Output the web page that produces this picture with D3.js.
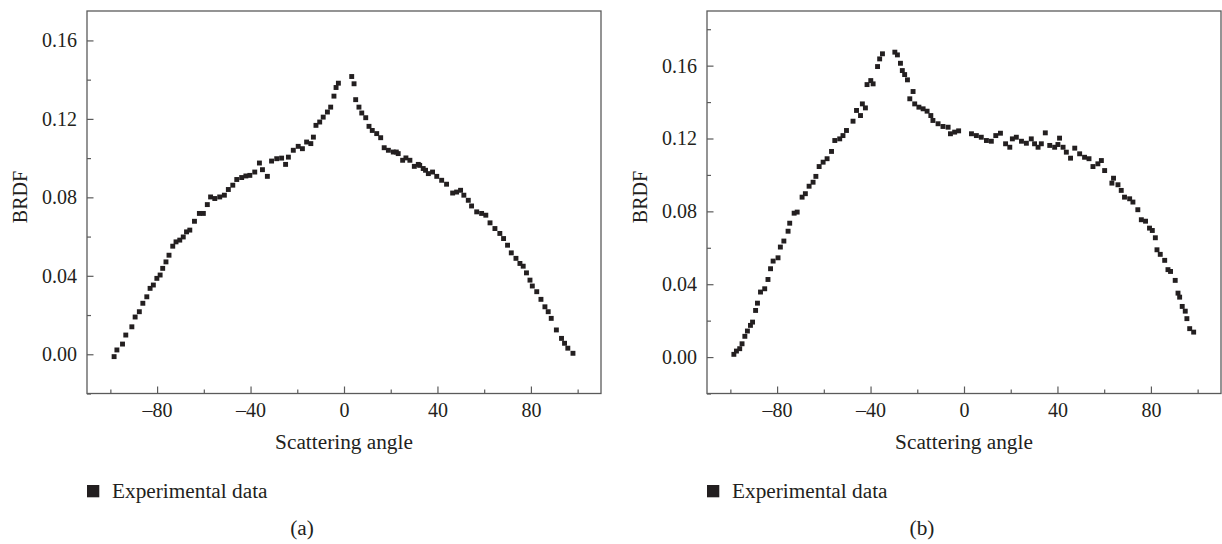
<!DOCTYPE html>
<html>
<head>
<meta charset="utf-8">
<script src="https://cdn.jsdelivr.net/npm/d3@7"></script>
<style>
  html, body { margin: 0; padding: 0; background: #ffffff; }
  svg { display: block; }
  text { font-family: "Liberation Serif", "Times New Roman", serif; fill: #231f20; }
</style>
</head>
<body>
<svg id="chart" width="1222" height="544"></svg>
<script>
// ---------------- data ----------------
const anglesA = [-98.4,-97.2,-94.8,-93.4,-90.8,-89.4,-87.6,-86.1,-84.4,-83.0,-81.6,-80.1,-78.7,-77.6,-76.2,-74.9,-73.3,-71.9,-70.3,-68.8,-67.4,-66.0,-64.0,-61.9,-60.2,-58.5,-57.1,-55.3,-53.2,-51.2,-49.5,-47.6,-45.9,-43.8,-42.0,-40.3,-38.2,-36.2,-34.9,-32.8,-31.0,-28.8,-26.7,-25.0,-23.8,-21.7,-19.6,-17.8,-16.0,-14.2,-13.1,-12.0,-10.4,-8.9,-7.1,-5.7,-4.3,-3.4,-2.4,3.3,4.3,5.0,6.4,7.6,9.3,10.7,12.1,14.0,15.7,17.2,19.0,21.1,22.4,23.2,25.1,26.5,28.2,30.1,31.8,32.4,33.9,34.9,36.1,37.9,39.7,41.8,43.9,46.5,48.2,49.9,51.3,53.2,54.6,56.8,58.9,60.7,62.5,64.6,66.7,68.3,70.0,71.6,73.6,75.3,76.7,78.1,79.6,80.6,82.5,84.3,86.0,87.4,88.7,90.9,93.1,94.4,95.8,98.0];
const brdfA = [-0.0012,0.0022,0.0052,0.0098,0.0140,0.0190,0.0217,0.0260,0.0293,0.0336,0.0353,0.0387,0.0404,0.0438,0.0471,0.0505,0.0551,0.0573,0.0582,0.0598,0.0624,0.0633,0.0678,0.0718,0.0718,0.0763,0.0802,0.0794,0.0802,0.0811,0.0840,0.0862,0.0891,0.0901,0.0909,0.0912,0.0929,0.0975,0.0941,0.0907,0.0985,0.0997,0.1000,0.0968,0.1005,0.1040,0.1060,0.1048,0.1082,0.1074,0.1107,0.1167,0.1184,0.1209,0.1235,0.1260,0.1316,0.1360,0.1382,0.1416,0.1379,0.1298,0.1260,0.1230,0.1206,0.1162,0.1141,0.1125,0.1104,0.1053,0.1040,0.1031,0.1031,0.1023,0.0989,0.1001,0.0989,0.0958,0.0968,0.0963,0.0947,0.0938,0.0921,0.0929,0.0907,0.0887,0.0867,0.0822,0.0827,0.0836,0.0811,0.0785,0.0756,0.0726,0.0718,0.0709,0.0670,0.0641,0.0616,0.0590,0.0556,0.0517,0.0489,0.0463,0.0449,0.0415,0.0378,0.0348,0.0319,0.0280,0.0242,0.0217,0.0183,0.0124,0.0081,0.0056,0.0031,0.0005];

const anglesB = [-98.5,-97.4,-96.0,-95.0,-93.8,-92.7,-91.4,-90.5,-89.2,-88.4,-87.1,-85.3,-83.9,-82.8,-81.7,-79.6,-78.6,-77.1,-75.3,-74.6,-72.7,-71.4,-69.3,-67.9,-66.3,-64.6,-63.4,-62.0,-60.3,-58.6,-56.7,-55.3,-53.2,-51.8,-50.3,-47.5,-46.0,-44.3,-43.5,-42.2,-41.5,-39.9,-38.9,-37.0,-36.1,-34.9,-29.6,-28.5,-27.2,-26.4,-25.4,-24.2,-23.2,-21.8,-21.1,-19.3,-17.5,-15.8,-14.2,-13.3,-11.1,-9.0,-6.8,-5.8,-4.0,-2.3,3.2,5.3,7.4,9.6,11.7,13.6,15.6,17.8,19.6,20.7,22.4,24.6,26.7,28.8,30.2,31.7,33.1,34.8,36.7,38.8,40.2,40.9,42.4,43.8,45.6,47.4,49.5,51.6,53.5,55.2,57.3,58.8,60.2,63.3,64.0,65.9,67.3,68.7,70.9,72.3,74.4,75.9,77.7,79.4,80.6,81.9,82.6,84.0,85.9,87.3,88.4,90.4,91.6,92.3,93.4,94.7,95.4,96.6,98.3];
const brdfB = [0.0015,0.0033,0.0046,0.0073,0.0114,0.0143,0.0174,0.0192,0.0256,0.0296,0.0357,0.0375,0.0426,0.0485,0.0527,0.0545,0.0604,0.0637,0.0691,0.0735,0.0790,0.0796,0.0878,0.0897,0.0938,0.0960,0.0992,0.1046,0.1070,0.1089,0.1129,0.1189,0.1198,0.1216,0.1244,0.1295,0.1354,0.1326,0.1390,0.1368,0.1496,0.1518,0.1500,0.1595,0.1637,0.1665,0.1674,0.1659,0.1613,0.1573,0.1551,0.1522,0.1418,0.1458,0.1390,0.1372,0.1363,0.1350,0.1326,0.1299,0.1281,0.1266,0.1262,0.1226,0.1235,0.1242,0.1226,0.1216,0.1207,0.1189,0.1185,0.1216,0.1229,0.1171,0.1152,0.1198,0.1207,0.1185,0.1174,0.1198,0.1171,0.1152,0.1171,0.1231,0.1162,0.1152,0.1167,0.1202,0.1152,0.1125,0.1092,0.1147,0.1116,0.1097,0.1089,0.1046,0.1061,0.1079,0.1024,0.0955,0.0982,0.0946,0.0915,0.0878,0.0869,0.0851,0.0809,0.0754,0.0746,0.0708,0.0695,0.0655,0.0589,0.0564,0.0531,0.0480,0.0470,0.0421,0.0351,0.0329,0.0278,0.0252,0.0211,0.0156,0.0137];

const xTickValues = [-80, -40, 0, 40, 80];
const xTickLabels = ["\u201380", "\u201340", "0", "40", "80"];
const xMinorValues = [-100, -60, -20, 20, 60, 100];
const yTickValuesA = [0.00, 0.04, 0.08, 0.12, 0.16];
const yTickLabelsA = ["0.00", "0.04", "0.08", "0.12", "0.16"];
const yMinorValuesA = [-0.02, 0.02, 0.06, 0.10, 0.14];
const yTickValuesB = [0.00, 0.04, 0.08, 0.12, 0.16];
const yTickLabelsB = ["0.00", "0.04", "0.08", "0.12", "0.16"];
const yMinorValuesB = [-0.02, 0.02, 0.06, 0.10, 0.14, 0.18];
const xTitle = "Scattering angle";
const yTitle = "BRDF";
const legendLabel = "Experimental data";
const panelLabels = ["(a)", "(b)"];

// ---------------- drawing ----------------
const svg = d3.select("#chart");
const FRAME = "#5b5b5b";
const INK = "#231f20";
const FS = 20;
const FS_T = 21.3;

function drawPanel(opt) {
  const g = svg.append("g");
  const x = d3.scaleLinear().domain([-110, 110]).range([opt.left, opt.right]);
  const y = d3.scaleLinear().domain(opt.yDomain).range([opt.bottom, opt.top]);

  const yMinor = g.append("g").attr("transform", `translate(${opt.left},0)`)
    .call(d3.axisLeft(y).tickValues(opt.yMinor).tickSize(-4).tickFormat(""));
  const xMinor = g.append("g").attr("transform", `translate(0,${opt.bottom})`)
    .call(d3.axisBottom(x).tickValues(xMinorValues).tickSize(-4).tickFormat(""));

  const yAx = g.append("g").attr("transform", `translate(${opt.left},0)`)
    .call(d3.axisLeft(y).tickValues(opt.yTicks).tickSize(-6.5).tickPadding(10)
      .tickFormat((d, i) => opt.yLabels[i]));
  const xAx = g.append("g").attr("transform", `translate(0,${opt.bottom})`)
    .call(d3.axisBottom(x).tickValues(xTickValues).tickSize(-7).tickPadding(9.5)
      .tickFormat((d, i) => xTickLabels[i]));

  [yMinor, xMinor, yAx, xAx].forEach(a => {
    a.select(".domain").remove();
    a.selectAll("line").attr("stroke", FRAME).attr("stroke-width", 1.2);
    a.selectAll("text").attr("font-size", FS).attr("font-family", "Liberation Serif").attr("fill", INK);
  });

  g.append("rect")
    .attr("x", opt.left).attr("y", opt.top)
    .attr("width", opt.right - opt.left).attr("height", opt.bottom - opt.top)
    .attr("fill", "none").attr("stroke", FRAME).attr("stroke-width", 1.3);

  const pts = opt.angles.map((a, i) => ({ a, v: opt.values[i] }));
  const s = 4.9;
  g.append("g").selectAll("rect").data(pts).join("rect")
    .attr("x", d => x(d.a) - s / 2).attr("y", d => y(d.v) - s / 2)
    .attr("width", s).attr("height", s).attr("fill", INK);

  g.append("text").attr("x", x(0)).attr("y", 449)
    .attr("text-anchor", "middle").attr("font-size", FS_T).text(xTitle);
  g.append("text")
    .attr("transform", `translate(${opt.yTitleX},197) rotate(-90)`)
    .attr("text-anchor", "middle").attr("dy", "0.35em").attr("font-size", FS).text(yTitle);

  g.append("rect").attr("x", opt.left).attr("y", 485).attr("width", 12.3).attr("height", 12.3).attr("fill", INK);
  g.append("text").attr("x", opt.left + 25).attr("y", 497.5).attr("font-size", FS_T).text(legendLabel);

  g.append("text").attr("x", opt.labelX).attr("y", 534.5)
    .attr("text-anchor", "middle").attr("font-size", FS_T).text(opt.label);
}

drawPanel({
  left: 87, right: 601, top: 11, bottom: 393.5,
  yDomain: [-0.02, 0.175],
  yTicks: yTickValuesA, yLabels: yTickLabelsA, yMinor: yMinorValuesA,
  angles: anglesA, values: brdfA,
  yTitleX: 20, labelX: 302, label: panelLabels[0]
});
drawPanel({
  left: 707, right: 1221, top: 11, bottom: 393.5,
  yDomain: [-0.02, 0.19],
  yTicks: yTickValuesB, yLabels: yTickLabelsB, yMinor: yMinorValuesB,
  angles: anglesB, values: brdfB,
  yTitleX: 640, labelX: 922, label: panelLabels[1]
});
</script>
</body>
</html>
